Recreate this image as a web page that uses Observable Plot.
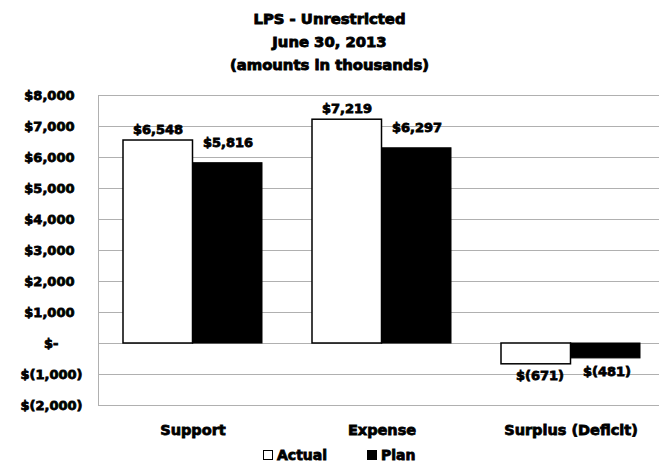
<!DOCTYPE html>
<html>
<head>
<meta charset="utf-8">
<script src="https://cdn.jsdelivr.net/npm/d3@7"></script>
<script src="https://cdn.jsdelivr.net/npm/@observablehq/plot@0.6"></script>
<style>
  html, body { margin: 0; padding: 0; background: #fff; }
  #wrap { width: 659px; height: 466px; position: relative; font-family: "DejaVu Sans", sans-serif; font-weight: bold; color: #000; }
  #title { height: 80px; box-sizing: border-box; padding-top: 7px; text-align: center; font-size: 14.8px; line-height: 23px; -webkit-text-stroke: 0.9px #000; }
  #chart svg text { stroke: #000; stroke-width: 0.8px; }
  #legend { position: absolute; top: 445px; left: 0; width: 659px; height: 20px; font-size: 14px; -webkit-text-stroke: 0.8px #000; }
  .item { position: absolute; top: 0; display: flex; align-items: center; height: 20px; }
  .sw { width: 10px; height: 10px; box-sizing: border-box; border: 1.5px solid #000; margin-right: 4px; }
</style>
</head>
<body>
<div id="wrap">
  <div id="title">LPS - Unrestricted<br>June 30, 2013<br>(amounts in thousands)</div>
  <div id="chart"></div>
  <div id="legend"></div>
</div>
<script>
const categories = ["Support", "Expense", "Surplus (Deficit)"];
const seriesNames = ["Actual", "Plan"];
const actualValues = [6548, 7219, -671];
const planValues = [5816, 6297, -481];
const yTicks = [-2000, -1000, 0, 1000, 2000, 3000, 4000, 5000, 6000, 7000, 8000];

const data = categories.flatMap((c, i) => [
  {category: c, series: seriesNames[0], value: actualValues[i]},
  {category: c, series: seriesNames[1], value: planValues[i]}
]);
const actual = data.filter(d => d.series === "Actual");
const plan = data.filter(d => d.series === "Plan");

const fmt = d3.format(",");
const money = v => v === 0 ? "$-" : v < 0 ? `$(${fmt(-v)})` : `$${fmt(v)}`;

const grid = "#b0b0b0";
const chart = Plot.plot({
  width: 659,
  height: 360,
  marginLeft: 98,
  marginRight: 0,
  marginTop: 15,
  marginBottom: 35,
  style: {fontFamily: "DejaVu Sans, sans-serif", fontWeight: "bold", fontSize: "13px", color: "#000", background: "#fff", overflow: "visible"},
  x: {domain: categories, range: [98, 665], padding: 0, label: null},
  y: {domain: [-2000, 8000], label: null},
  marks: [
    Plot.gridY(yTicks, {stroke: grid, strokeOpacity: 1, strokeWidth: 1}),
    Plot.frame({anchor: "left", stroke: grid, strokeWidth: 1}),
    Plot.axisY(yTicks.filter(t => t > 0), {tickSize: 0, tickPadding: 24, tickFormat: money, fontSize: 13, label: null}),
    Plot.axisY(yTicks.filter(t => t < 0), {tickSize: 0, tickPadding: 16, tickFormat: money, fontSize: 13, label: null}),
    Plot.axisY(yTicks.filter(t => t === 0), {tickSize: 0, tickPadding: 40, tickFormat: money, fontSize: 13, label: null}),
    Plot.axisX({tickSize: 0, tickPadding: 19, fontSize: 14.5, label: null}),
    Plot.barY(actual, {x: "category", y: "value", fill: "#fff", stroke: "#000", strokeWidth: 1.5, insetLeft: 25, insetRight: 94.5}),
    Plot.barY(plan, {x: "category", y: "value", fill: "#000", stroke: "#000", strokeWidth: 1, insetLeft: 94.5, insetRight: 25}),
    Plot.text(actual.filter(d => d.value >= 0), {x: "category", y: "value", text: d => money(d.value), dx: -35, dy: -11, lineAnchor: "middle", fontSize: 13}),
    Plot.text(plan.filter(d => d.value >= 0), {x: "category", y: "value", text: d => money(d.value), dx: 35, dy: -20, lineAnchor: "middle", fontSize: 13}),
    Plot.text(actual.filter(d => d.value < 0), {x: "category", y: "value", text: d => money(d.value), dx: -31, dy: 12, lineAnchor: "middle", fontSize: 13}),
    Plot.text(plan.filter(d => d.value < 0), {x: "category", y: "value", text: d => money(d.value), dx: 36, dy: 13, lineAnchor: "middle", fontSize: 13})
  ]
});
document.getElementById("chart").appendChild(chart);

const legend = document.getElementById("legend");
const legendLeft = {Actual: 263, Plan: 367};
seriesNames.forEach(s => {
  const item = document.createElement("div");
  item.className = "item";
  item.style.left = legendLeft[s] + "px";
  const sw = document.createElement("span");
  sw.className = "sw";
  sw.style.background = s === "Actual" ? "#fff" : "#000";
  item.appendChild(sw);
  item.appendChild(document.createTextNode(s));
  legend.appendChild(item);
});
</script>
</body>
</html>
